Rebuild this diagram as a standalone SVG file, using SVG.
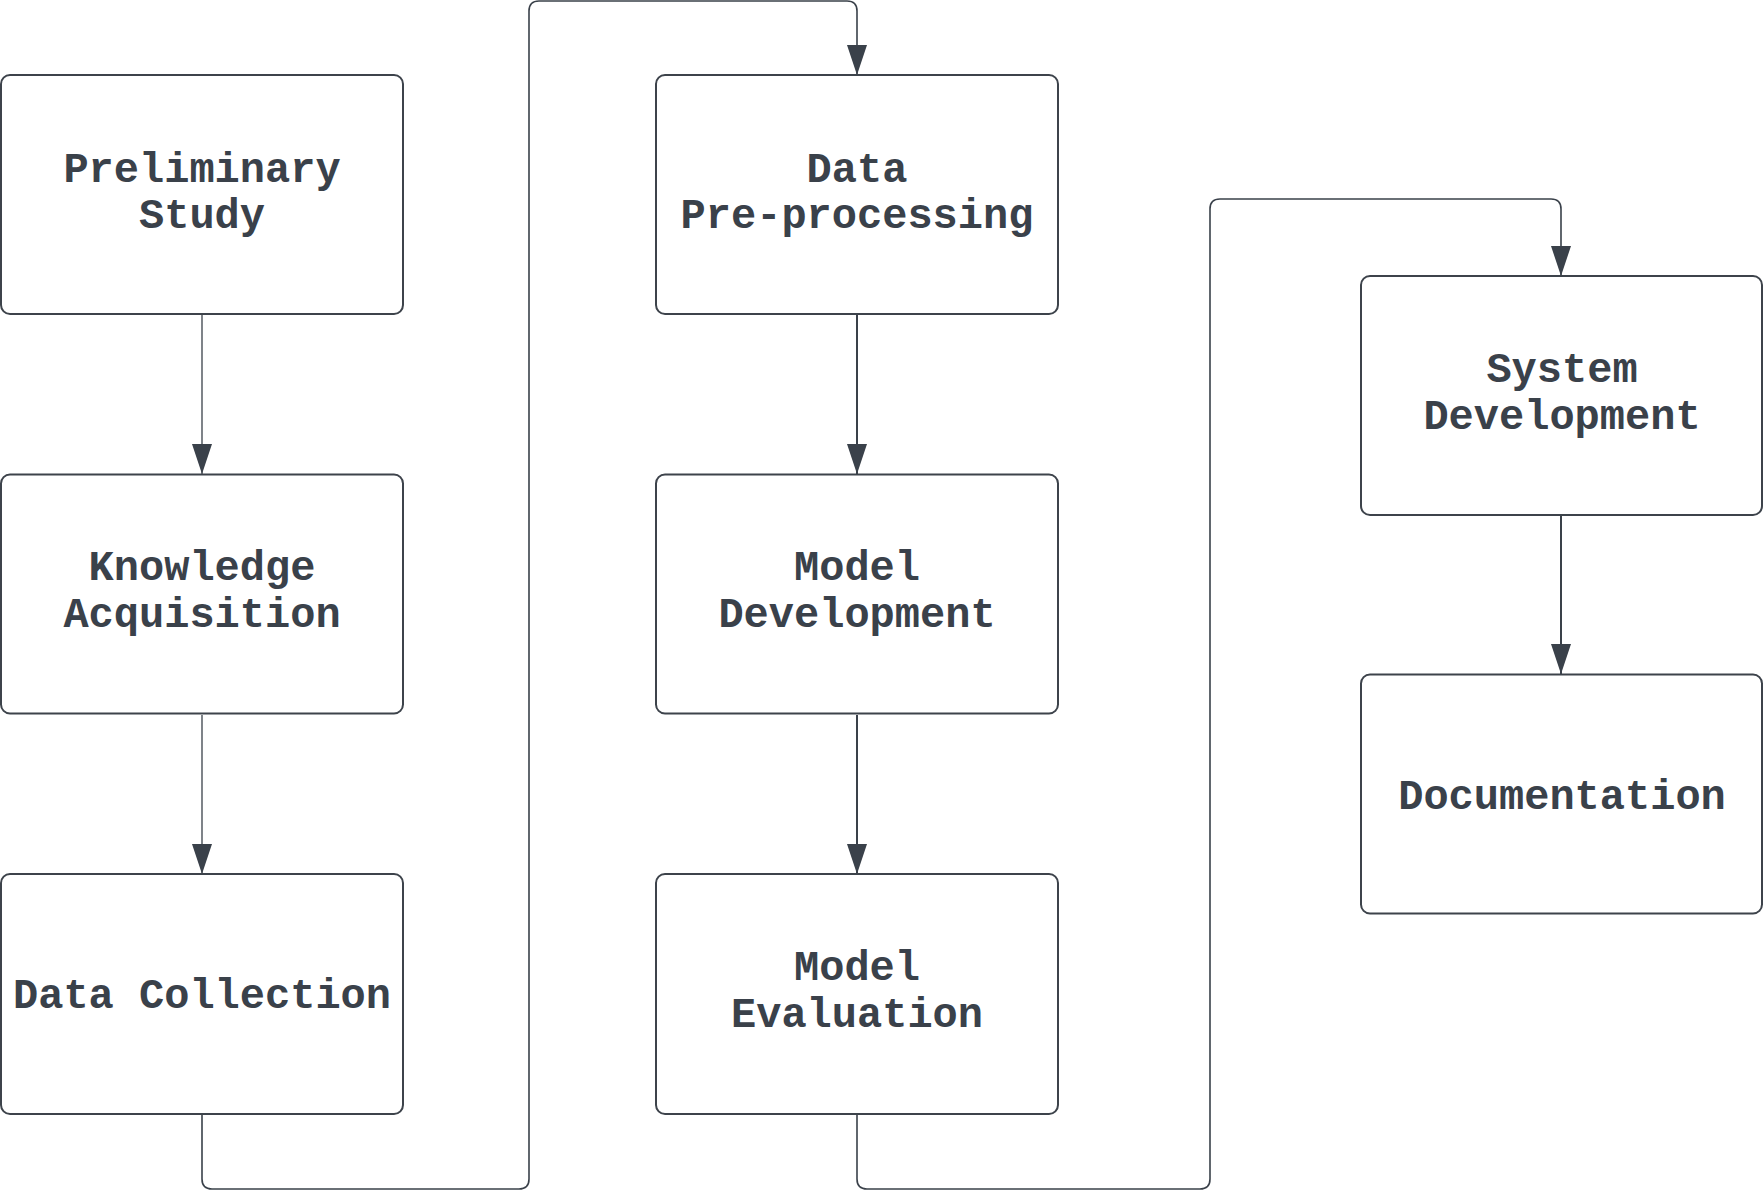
<svg xmlns="http://www.w3.org/2000/svg" width="1764" height="1191" viewBox="0 0 1764 1191">
<style>
.box{fill:#ffffff;stroke:#3d434b;stroke-width:2}
.lbl{font-family:"Liberation Mono","DejaVu Sans Mono",monospace;font-weight:bold;font-size:42px;fill:#3a414a;text-anchor:middle}
.c{fill:none;stroke:#3a414a}
.thin{stroke-width:1.3}
.mid{stroke-width:1.6}
.thick{stroke-width:2}
</style>
<defs>
<marker id="arr" markerUnits="userSpaceOnUse" markerWidth="30" markerHeight="20" refX="30" refY="10" orient="auto">
<path d="M0,0 L30,10 L0,20 z" fill="#3a414a"/>
</marker>
</defs>
<rect width="1764" height="1191" fill="#ffffff"/>
<g id="connectors">
<path class="c thin" d="M202,315 L202,474" marker-end="url(#arr)"/>
<path class="c thin" d="M202,715 L202,874" marker-end="url(#arr)"/>
<path class="c mid" d="M202,1115 L202,1179 Q202,1189 212,1189 L519,1189 Q529,1189 529,1179 L529,11 Q529,1 539,1 L847,1 Q857,1 857,11 L857,75" marker-end="url(#arr)"/>
<path class="c thick" d="M857,315 L857,474" marker-end="url(#arr)"/>
<path class="c thick" d="M857,715 L857,874" marker-end="url(#arr)"/>
<path class="c mid" d="M857,1115 L857,1179 Q857,1189 867,1189 L1200,1189 Q1210,1189 1210,1179 L1210,209 Q1210,199 1220,199 L1551,199 Q1561,199 1561,209 L1561,276" marker-end="url(#arr)"/>
<path class="c thick" d="M1561,516 L1561,674" marker-end="url(#arr)"/>
</g>
<g id="preliminary-study">
<rect class="box" x="1" y="75" width="402" height="239" rx="9"/>
<text class="lbl" x="202" y="182">Preliminary</text>
<text class="lbl" x="202" y="228">Study</text>
</g>
<g id="knowledge-acquisition">
<rect class="box" x="1" y="474.5" width="402" height="239" rx="9"/>
<text class="lbl" x="202" y="580">Knowledge</text>
<text class="lbl" x="202" y="627">Acquisition</text>
</g>
<g id="data-collection">
<rect class="box" x="1" y="874" width="402" height="240" rx="9"/>
<text class="lbl" x="202" y="1008">Data Collection</text>
</g>
<g id="data-preprocessing">
<rect class="box" x="656" y="75" width="402" height="239" rx="9"/>
<text class="lbl" x="857" y="182">Data</text>
<text class="lbl" x="857" y="228">Pre-processing</text>
</g>
<g id="model-development">
<rect class="box" x="656" y="474.5" width="402" height="239" rx="9"/>
<text class="lbl" x="857" y="580">Model</text>
<text class="lbl" x="857" y="627">Development</text>
</g>
<g id="model-evaluation">
<rect class="box" x="656" y="874" width="402" height="240" rx="9"/>
<text class="lbl" x="857" y="980">Model</text>
<text class="lbl" x="857" y="1027">Evaluation</text>
</g>
<g id="system-development">
<rect class="box" x="1361" y="276" width="401" height="239" rx="9"/>
<text class="lbl" x="1562" y="382">System</text>
<text class="lbl" x="1562" y="429">Development</text>
</g>
<g id="documentation">
<rect class="box" x="1361" y="674.5" width="401" height="239" rx="9"/>
<text class="lbl" x="1562" y="809">Documentation</text>
</g>
</svg>
